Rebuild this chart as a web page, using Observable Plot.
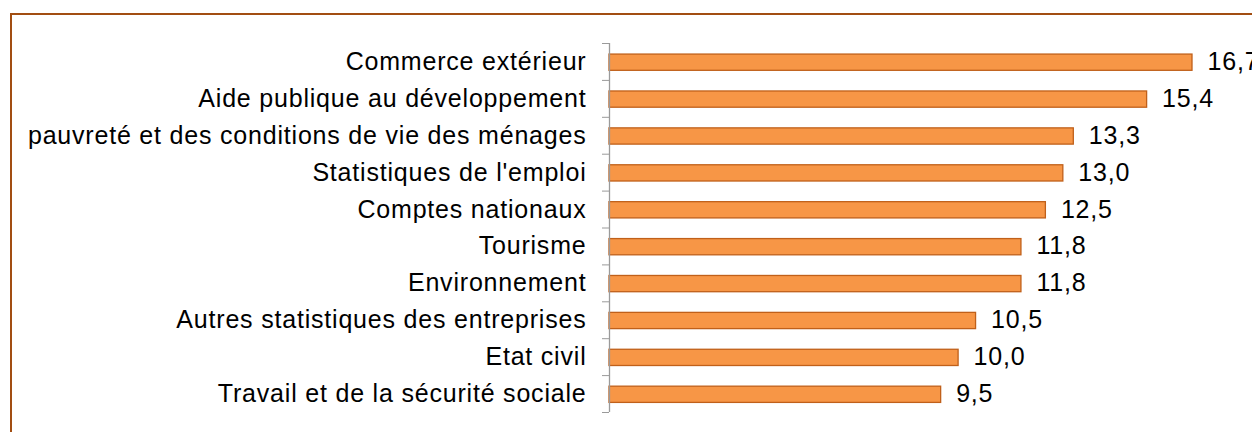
<!DOCTYPE html>
<html>
<head>
<meta charset="utf-8">
<script src="https://cdn.jsdelivr.net/npm/d3@7"></script>
<script src="https://cdn.jsdelivr.net/npm/@observablehq/plot@0.6"></script>
<style>
  html, body { margin: 0; padding: 0; background: #fff; overflow: hidden; }
  #wrap { position: relative; width: 1252px; height: 432px; overflow: hidden; background: #fff; }
  #frame { position: absolute; left: 10px; top: 13px; width: 1400px; height: 600px; border: 2px solid #A24E12; box-sizing: border-box; pointer-events: none; }
  #chart svg { display: block; }
  #chart svg text { letter-spacing: 0.8px; }
</style>
</head>
<body>
<div id="wrap"><div id="chart"></div><div id="frame"></div></div>
<script>
const categories = [
  "Commerce extérieur",
  "Aide publique au développement",
  "pauvreté et des conditions de vie des ménages",
  "Statistiques de l'emploi",
  "Comptes nationaux",
  "Tourisme",
  "Environnement",
  "Autres statistiques des entreprises",
  "Etat civil",
  "Travail et de la sécurité sociale"
];
const values = [16.7, 15.4, 13.3, 13.0, 12.5, 11.8, 11.8, 10.5, 10.0, 9.5];

const fmt = v => v.toFixed(1).replace(".", ",");
const rows = categories.map((c, i) => ({cat: c, value: values[i], idx: i}));
const boundaries = d3.range(categories.length + 1);

const chart = Plot.plot({
  width: 1252,
  height: 432,
  marginLeft: 609,
  marginRight: 60,
  marginTop: 43,
  marginBottom: 20,
  style: {fontFamily: "Arial, 'Liberation Sans', sans-serif", fontSize: "25px", color: "#000", background: "#fff"},
  x: {domain: [0, 16.7], axis: null},
  y: {domain: [0, categories.length], reverse: true},
  marks: [
    Plot.rectX(rows, {x1: 0, x2: "value", y1: d => d.idx + 0.3, y2: d => d.idx + 0.74, fill: "#F79646", stroke: "#C0601A", strokeWidth: 1.3}),
    Plot.ruleX([0], {stroke: "#9a9a9a", strokeWidth: 1.3}),
    Plot.axisY(boundaries, {tickSize: 7, tickFormat: () => "", stroke: "#9a9a9a", label: null}),
    Plot.text(rows, {x: 0, y: d => d.idx + 0.5, text: "cat", textAnchor: "end", dx: -23, fill: "#000"}),
    Plot.text(rows, {x: "value", y: d => d.idx + 0.5, text: d => fmt(d.value), textAnchor: "start", dx: 15, fill: "#000"})
  ]
});
document.getElementById("chart").appendChild(chart);
</script>
</body>
</html>
